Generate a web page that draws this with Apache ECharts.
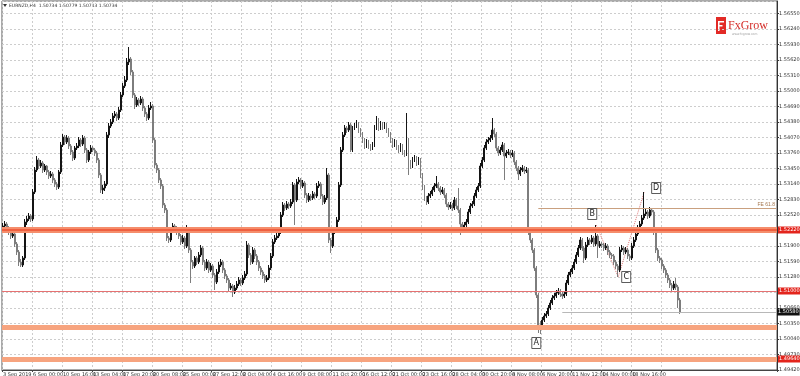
<!DOCTYPE html>
<html><head><meta charset="utf-8">
<script src="https://cdn.jsdelivr.net/npm/echarts@6/dist/echarts.min.js"></script>
<style>html,body{margin:0;padding:0;background:#fff}#c{width:800px;height:376px}</style>
</head><body><div id="c"></div>
<script>
const opens=[
1.5226,1.5230,1.5234,1.5226,1.5218,1.5210,1.5214,1.5194,1.5178,1.5158,
1.5152,1.5166,1.5238,1.5244,1.5250,1.5244,1.5298,1.5342,1.5362,1.5350,
1.5356,1.5342,1.5350,1.5338,1.5330,1.5334,1.5322,1.5314,1.5308,1.5338,
1.5392,1.5408,1.5398,1.5406,1.5390,1.5378,1.5366,1.5386,1.5390,1.5402,
1.5394,1.5406,1.5382,1.5362,1.5378,1.5386,1.5382,1.5376,1.5362,1.5332,
1.5302,1.5306,1.5314,1.5412,1.5430,1.5438,1.5450,1.5454,1.5446,1.5462,
1.5492,1.5510,1.5522,1.5558,1.5564,1.5538,1.5492,1.5472,1.5482,1.5476,
1.5484,1.5466,1.5454,1.5446,1.5466,1.5470,1.5402,1.5352,1.5342,1.5322,
1.5310,1.5272,1.5262,1.5206,1.5202,1.5222,1.5230,1.5226,1.5218,1.5210,
1.5198,1.5206,1.5190,1.5222,1.5182,1.5158,1.5150,1.5166,1.5158,1.5172,
1.5186,1.5158,1.5146,1.5158,1.5142,1.5150,1.5132,1.5118,1.5138,1.5152,
1.5158,1.5142,1.5130,1.5122,1.5106,1.5110,1.5098,1.5106,1.5114,1.5122,
1.5116,1.5126,1.5134,1.5192,1.5172,1.5158,1.5182,1.5170,1.5158,1.5146,
1.5138,1.5130,1.5122,1.5126,1.5146,1.5170,1.5198,1.5206,1.5210,1.5218,
1.5252,1.5272,1.5266,1.5274,1.5270,1.5278,1.5312,1.5282,1.5318,1.5322,
1.5310,1.5316,1.5292,1.5282,1.5290,1.5286,1.5294,1.5290,1.5310,1.5314,
1.5290,1.5278,1.5286,1.5332,1.5202,1.5190,1.5218,1.5222,1.5242,1.5312,
1.5382,1.5412,1.5426,1.5422,1.5432,1.5382,1.5426,1.5430,1.5434,1.5422,
1.5414,1.5402,1.5390,1.5398,1.5390,1.5386,1.5392,1.5426,1.5442,1.5426,
1.5434,1.5428,1.5432,1.5422,1.5414,1.5402,1.5392,1.5398,1.5388,1.5382,
1.5390,1.5378,1.5374,1.5402,1.5358,1.5350,1.5362,1.5366,1.5356,1.5362,
1.5332,1.5308,1.5286,1.5278,1.5290,1.5294,1.5302,1.5310,1.5314,1.5306,
1.5298,1.5302,1.5292,1.5274,1.5268,1.5272,1.5266,1.5282,1.5270,1.5262,
1.5234,1.5226,1.5232,1.5238,1.5258,1.5270,1.5274,1.5290,1.5302,1.5310,
1.5350,1.5362,1.5386,1.5398,1.5402,1.5406,1.5422,1.5414,1.5386,1.5376,
1.5382,1.5392,1.5370,1.5376,1.5378,1.5372,1.5376,1.5358,1.5346,1.5334,
1.5342,1.5346,1.5340,1.5342,1.5218,1.5202,1.5182,1.5146,1.5092,1.5032,
1.5026,1.5042,1.5050,1.5054,1.5066,1.5076,1.5086,1.5090,1.5096,1.5100,
1.5094,1.5090,1.5094,1.5116,1.5132,1.5138,1.5146,1.5158,1.5172,1.5186,
1.5202,1.5186,1.5166,1.5192,1.5202,1.5198,1.5206,1.5194,1.5210,1.5190,
1.5194,1.5192,1.5186,1.5190,1.5178,1.5172,1.5170,1.5158,1.5150,1.5142,
1.5182,1.5186,1.5178,1.5182,1.5170,1.5166,1.5190,1.5202,1.5214,1.5226,
1.5234,1.5246,1.5254,1.5258,1.5250,1.5262,1.5258,1.5218,1.5182,1.5166,
1.5162,1.5150,1.5142,1.5132,1.5122,1.5112,1.5106,1.5114,1.5108,1.5082];
const closes=[
1.5230,1.5234,1.5226,1.5218,1.5210,1.5214,1.5194,1.5178,1.5158,1.5152,
1.5166,1.5238,1.5244,1.5250,1.5244,1.5298,1.5342,1.5362,1.5350,1.5356,
1.5342,1.5350,1.5338,1.5330,1.5334,1.5322,1.5314,1.5308,1.5338,1.5392,
1.5408,1.5398,1.5406,1.5390,1.5378,1.5366,1.5386,1.5390,1.5402,1.5394,
1.5406,1.5382,1.5362,1.5378,1.5386,1.5382,1.5376,1.5362,1.5332,1.5302,
1.5306,1.5314,1.5412,1.5430,1.5438,1.5450,1.5454,1.5446,1.5462,1.5492,
1.5510,1.5522,1.5558,1.5564,1.5538,1.5492,1.5472,1.5482,1.5476,1.5484,
1.5466,1.5454,1.5446,1.5466,1.5470,1.5402,1.5352,1.5342,1.5322,1.5310,
1.5272,1.5262,1.5206,1.5202,1.5222,1.5230,1.5226,1.5218,1.5210,1.5198,
1.5206,1.5190,1.5222,1.5182,1.5158,1.5150,1.5166,1.5158,1.5172,1.5186,
1.5158,1.5146,1.5158,1.5142,1.5150,1.5132,1.5118,1.5138,1.5152,1.5158,
1.5142,1.5130,1.5122,1.5106,1.5110,1.5098,1.5106,1.5114,1.5122,1.5116,
1.5126,1.5134,1.5192,1.5172,1.5158,1.5182,1.5170,1.5158,1.5146,1.5138,
1.5130,1.5122,1.5126,1.5146,1.5170,1.5198,1.5206,1.5210,1.5218,1.5252,
1.5272,1.5266,1.5274,1.5270,1.5278,1.5312,1.5282,1.5318,1.5322,1.5310,
1.5316,1.5292,1.5282,1.5290,1.5286,1.5294,1.5290,1.5310,1.5314,1.5290,
1.5278,1.5286,1.5332,1.5202,1.5190,1.5218,1.5222,1.5242,1.5312,1.5382,
1.5412,1.5426,1.5422,1.5432,1.5382,1.5426,1.5430,1.5434,1.5422,1.5414,
1.5402,1.5390,1.5398,1.5390,1.5386,1.5392,1.5426,1.5442,1.5426,1.5434,
1.5428,1.5432,1.5422,1.5414,1.5402,1.5392,1.5398,1.5388,1.5382,1.5390,
1.5378,1.5374,1.5402,1.5358,1.5350,1.5362,1.5366,1.5356,1.5362,1.5332,
1.5308,1.5286,1.5278,1.5290,1.5294,1.5302,1.5310,1.5314,1.5306,1.5298,
1.5302,1.5292,1.5274,1.5268,1.5272,1.5266,1.5282,1.5270,1.5262,1.5234,
1.5226,1.5232,1.5238,1.5258,1.5270,1.5274,1.5290,1.5302,1.5310,1.5350,
1.5362,1.5386,1.5398,1.5402,1.5406,1.5422,1.5414,1.5386,1.5376,1.5382,
1.5392,1.5370,1.5376,1.5378,1.5372,1.5376,1.5358,1.5346,1.5334,1.5342,
1.5346,1.5340,1.5342,1.5218,1.5202,1.5182,1.5146,1.5092,1.5032,1.5026,
1.5042,1.5050,1.5054,1.5066,1.5076,1.5086,1.5090,1.5096,1.5100,1.5094,
1.5090,1.5094,1.5116,1.5132,1.5138,1.5146,1.5158,1.5172,1.5186,1.5202,
1.5186,1.5166,1.5192,1.5202,1.5198,1.5206,1.5194,1.5210,1.5190,1.5194,
1.5192,1.5186,1.5190,1.5178,1.5172,1.5170,1.5158,1.5150,1.5142,1.5182,
1.5186,1.5178,1.5182,1.5170,1.5166,1.5190,1.5202,1.5214,1.5226,1.5234,
1.5246,1.5254,1.5258,1.5250,1.5262,1.5258,1.5218,1.5182,1.5166,1.5162,
1.5150,1.5142,1.5132,1.5122,1.5112,1.5106,1.5114,1.5108,1.5082,1.5058];
const highs=[
1.5236,1.5240,1.5238,1.5230,1.5222,1.5220,1.5218,1.5198,1.5182,1.5164,
1.5170,1.5244,1.5250,1.5256,1.5254,1.5304,1.5348,1.5370,1.5366,1.5362,
1.5360,1.5354,1.5352,1.5342,1.5340,1.5338,1.5326,1.5318,1.5342,1.5398,
1.5414,1.5412,1.5412,1.5410,1.5394,1.5382,1.5390,1.5396,1.5408,1.5406,
1.5412,1.5410,1.5386,1.5382,1.5392,1.5390,1.5386,1.5380,1.5366,1.5336,
1.5312,1.5320,1.5418,1.5436,1.5444,1.5456,1.5460,1.5458,1.5468,1.5498,
1.5516,1.5530,1.5566,1.5588,1.5568,1.5542,1.5496,1.5488,1.5486,1.5490,
1.5488,1.5470,1.5458,1.5472,1.5478,1.5474,1.5406,1.5356,1.5346,1.5326,
1.5314,1.5276,1.5266,1.5210,1.5228,1.5236,1.5234,1.5230,1.5222,1.5214,
1.5212,1.5210,1.5232,1.5226,1.5186,1.5162,1.5170,1.5170,1.5178,1.5192,
1.5190,1.5162,1.5164,1.5162,1.5156,1.5154,1.5136,1.5144,1.5158,1.5164,
1.5162,1.5146,1.5134,1.5126,1.5116,1.5114,1.5112,1.5120,1.5128,1.5126,
1.5132,1.5140,1.5200,1.5196,1.5176,1.5188,1.5186,1.5174,1.5162,1.5150,
1.5142,1.5134,1.5132,1.5152,1.5176,1.5204,1.5212,1.5216,1.5224,1.5258,
1.5278,1.5276,1.5280,1.5278,1.5284,1.5318,1.5316,1.5324,1.5328,1.5326,
1.5322,1.5320,1.5296,1.5296,1.5294,1.5300,1.5298,1.5316,1.5320,1.5318,
1.5294,1.5292,1.5346,1.5336,1.5206,1.5224,1.5228,1.5248,1.5318,1.5388,
1.5418,1.5432,1.5430,1.5438,1.5436,1.5430,1.5436,1.5442,1.5438,1.5426,
1.5418,1.5406,1.5404,1.5402,1.5394,1.5398,1.5432,1.5450,1.5446,1.5440,
1.5438,1.5438,1.5436,1.5426,1.5418,1.5406,1.5404,1.5402,1.5392,1.5396,
1.5394,1.5382,1.5456,1.5406,1.5362,1.5368,1.5372,1.5370,1.5368,1.5366,
1.5336,1.5312,1.5290,1.5296,1.5300,1.5308,1.5316,1.5330,1.5318,1.5310,
1.5308,1.5306,1.5296,1.5278,1.5278,1.5276,1.5288,1.5286,1.5306,1.5266,
1.5238,1.5238,1.5244,1.5264,1.5276,1.5280,1.5296,1.5308,1.5316,1.5356,
1.5368,1.5392,1.5404,1.5408,1.5412,1.5446,1.5426,1.5418,1.5390,1.5388,
1.5398,1.5396,1.5382,1.5384,1.5382,1.5382,1.5380,1.5362,1.5350,1.5348,
1.5352,1.5350,1.5348,1.5346,1.5222,1.5206,1.5186,1.5150,1.5096,1.5040,
1.5048,1.5056,1.5060,1.5072,1.5082,1.5092,1.5096,1.5102,1.5106,1.5104,
1.5098,1.5100,1.5122,1.5138,1.5144,1.5152,1.5164,1.5178,1.5192,1.5208,
1.5206,1.5190,1.5198,1.5208,1.5206,1.5212,1.5210,1.5232,1.5214,1.5200,
1.5198,1.5196,1.5196,1.5194,1.5182,1.5176,1.5174,1.5162,1.5154,1.5188,
1.5192,1.5190,1.5188,1.5186,1.5174,1.5196,1.5208,1.5220,1.5232,1.5240,
1.5252,1.5298,1.5266,1.5262,1.5268,1.5266,1.5262,1.5222,1.5186,1.5170,
1.5166,1.5154,1.5146,1.5136,1.5126,1.5116,1.5120,1.5126,1.5112,1.5086];
const lows=[
1.5220,1.5226,1.5220,1.5212,1.5204,1.5206,1.5188,1.5172,1.5150,1.5148,
1.5148,1.5162,1.5232,1.5240,1.5238,1.5240,1.5294,1.5338,1.5344,1.5346,
1.5336,1.5338,1.5332,1.5324,1.5326,1.5316,1.5308,1.5302,1.5304,1.5334,
1.5388,1.5392,1.5394,1.5384,1.5372,1.5360,1.5362,1.5382,1.5386,1.5388,
1.5390,1.5376,1.5356,1.5358,1.5374,1.5378,1.5370,1.5356,1.5326,1.5296,
1.5294,1.5300,1.5310,1.5406,1.5426,1.5434,1.5446,1.5440,1.5442,1.5458,
1.5488,1.5506,1.5518,1.5552,1.5532,1.5486,1.5464,1.5468,1.5470,1.5472,
1.5460,1.5448,1.5440,1.5442,1.5462,1.5396,1.5346,1.5336,1.5316,1.5304,
1.5266,1.5256,1.5200,1.5196,1.5198,1.5218,1.5220,1.5212,1.5204,1.5192,
1.5194,1.5184,1.5186,1.5176,1.5116,1.5144,1.5146,1.5152,1.5154,1.5168,
1.5152,1.5140,1.5142,1.5136,1.5138,1.5126,1.5102,1.5114,1.5134,1.5148,
1.5136,1.5124,1.5116,1.5100,1.5102,1.5088,1.5094,1.5102,1.5110,1.5110,
1.5112,1.5122,1.5130,1.5166,1.5152,1.5154,1.5164,1.5152,1.5140,1.5132,
1.5124,1.5116,1.5118,1.5122,1.5142,1.5166,1.5194,1.5202,1.5206,1.5214,
1.5248,1.5260,1.5262,1.5264,1.5266,1.5274,1.5232,1.5278,1.5314,1.5304,
1.5306,1.5286,1.5276,1.5278,1.5280,1.5282,1.5284,1.5286,1.5306,1.5284,
1.5272,1.5274,1.5282,1.5196,1.5176,1.5186,1.5214,1.5218,1.5238,1.5308,
1.5378,1.5408,1.5416,1.5418,1.5378,1.5378,1.5422,1.5426,1.5416,1.5408,
1.5396,1.5384,1.5386,1.5384,1.5380,1.5382,1.5388,1.5422,1.5420,1.5422,
1.5422,1.5424,1.5416,1.5408,1.5396,1.5386,1.5388,1.5382,1.5376,1.5378,
1.5372,1.5368,1.5370,1.5332,1.5344,1.5346,1.5358,1.5350,1.5352,1.5326,
1.5302,1.5280,1.5272,1.5274,1.5286,1.5290,1.5298,1.5306,1.5300,1.5292,
1.5294,1.5286,1.5268,1.5262,1.5264,1.5260,1.5262,1.5264,1.5256,1.5212,
1.5218,1.5222,1.5228,1.5234,1.5254,1.5266,1.5270,1.5286,1.5298,1.5306,
1.5346,1.5358,1.5382,1.5394,1.5398,1.5402,1.5408,1.5380,1.5370,1.5372,
1.5378,1.5322,1.5366,1.5372,1.5366,1.5368,1.5352,1.5340,1.5322,1.5330,
1.5338,1.5334,1.5336,1.5212,1.5196,1.5176,1.5140,1.5086,1.5016,1.5014,
1.5022,1.5038,1.5046,1.5050,1.5062,1.5072,1.5082,1.5086,1.5092,1.5088,
1.5084,1.5086,1.5090,1.5112,1.5128,1.5134,1.5142,1.5154,1.5168,1.5182,
1.5180,1.5156,1.5162,1.5188,1.5192,1.5194,1.5188,1.5190,1.5166,1.5186,
1.5186,1.5180,1.5182,1.5172,1.5166,1.5164,1.5152,1.5144,1.5128,1.5138,
1.5178,1.5172,1.5174,1.5164,1.5160,1.5162,1.5186,1.5198,1.5210,1.5222,
1.5230,1.5242,1.5250,1.5244,1.5246,1.5252,1.5212,1.5176,1.5160,1.5156,
1.5144,1.5136,1.5126,1.5116,1.5106,1.5100,1.5102,1.5102,1.5066,1.5054];

const xTickLabels=['3 Sep 2019','6 Sep 00:00','10 Sep 16:00','13 Sep 04:00','17 Sep 20:00','20 Sep 08:00',
'25 Sep 00:00','27 Sep 12:00','2 Oct 04:00','4 Oct 16:00','9 Oct 08:00','11 Oct 20:00','16 Oct 12:00',
'21 Oct 00:00','23 Oct 16:00','28 Oct 04:00','30 Oct 20:00','4 Nov 08:00','6 Nov 20:00','11 Nov 12:00',
'14 Nov 00:00','18 Nov 16:00','21 Nov 04:00'];
const barsPerTick=15;
const emptyBarsRight=48;

const levelZone1=1.5222, levelRedLine=1.5100, levelZone2=1.5028, levelZone3=1.4964, levelFE=1.5266;
const feStartBar=268, bidStartBar=280;
const annotLabels=['A','B','C','D'];
const annotBars=[267,295,312,327];
const annotPrices=[1.4996,1.5254,1.5128,1.5306];
const waveBars=[297,308,321];
const wavePrices=[1.5232,1.5128,1.5298];

const header='EURNZD,H4  1.50734 1.50779 1.50713 1.50734';

const N=opens.length+emptyBarsRight;
const cats=[];for(let i=0;i<N;i++)cats.push(String(i));
const candles=opens.map((o,i)=>[o,closes[i],lows[i],highs[i]]);
const lastClose=closes[closes.length-1];
const waveData=cats.map(()=>'-');waveBars.forEach((b,k)=>{waveData[b]=wavePrices[k];});
const showTick=(i)=> i%barsPerTick===0 && (i/barsPerTick)<xTickLabels.length;

const boxLabel=(bg,v)=>({show:true,position:'end',distance:1,formatter:v.toFixed(5),
  color:'#fff',backgroundColor:bg,fontSize:5,padding:[1,1],fontFamily:'DejaVu Sans'});

const chart=echarts.init(document.getElementById('c'),null,{renderer:'canvas'});
chart.setOption({
  animation:false,
  backgroundColor:'#fff',
  grid:{left:2,right:23,top:1,bottom:6,show:true,borderColor:'#555',borderWidth:1,
    containLabel:false,outerBoundsMode:'none'},
  xAxis:{type:'category',data:cats,boundaryGap:true,
    axisLine:{show:true,lineStyle:{color:'#444'}},
    axisTick:{show:true,interval:(i)=>showTick(i),length:2,lineStyle:{color:'#444'}},
    axisLabel:{interval:(i)=>showTick(i),formatter:(v,i)=>xTickLabels[i/barsPerTick],hideOverlap:false,
      showMinLabel:true,fontSize:5,color:'#333',align:'left',margin:2,fontFamily:'DejaVu Sans'},
    splitLine:{show:true,interval:(i)=>showTick(i),lineStyle:{color:'#cdcdcd',type:[2,2],width:1}}},
  yAxis:{type:'value',position:'right',min:1.4942,max:1.5680,interval:0.0031,scale:true,
    axisLine:{show:true,lineStyle:{color:'#333'}},
    axisTick:{show:true,length:2,lineStyle:{color:'#333'}},
    axisLabel:{fontSize:5,color:'#333',margin:2,formatter:(v)=>v.toFixed(5),showMaxLabel:false,fontFamily:'DejaVu Sans'},
    splitLine:{show:true,lineStyle:{color:'#cdcdcd',type:[2,2],width:1}}},
  series:[
    {type:'candlestick',data:candles,barWidth:1.4,
      itemStyle:{color:'#141414',color0:'#7d7d7d',borderColor:'#141414',borderColor0:'#7d7d7d',borderWidth:1},
      markLine:{silent:true,symbol:['none','none'],animation:false,precision:6,
        data:[
          {yAxis:levelZone1,lineStyle:{color:'#f58e6c',width:6,type:'solid'},label:{show:false}},
          {yAxis:levelZone1,lineStyle:{color:'#ec4f30',width:1.5,type:'solid'},label:boxLabel('#e3241c',levelZone1)},
          {yAxis:levelZone2,lineStyle:{color:'#f7a47f',width:5,type:'solid'},label:{show:false}},
          {yAxis:levelZone3,lineStyle:{color:'#f7a47f',width:5,type:'solid'},label:boxLabel('#e3241c',levelZone3)},
          {yAxis:levelRedLine,lineStyle:{color:'#e57272',width:1,type:'solid'},label:boxLabel('#e3241c',levelRedLine)},
          [{coord:[String(feStartBar),levelFE],lineStyle:{color:'#c9a07f',width:1,type:'solid'},
            label:{show:true,position:'insideEndTop',formatter:'FE 61.8',fontSize:5,color:'#a5774f',distance:1}},
           {coord:[String(N-1),levelFE]}],
          [{coord:[String(bidStartBar),lastClose],lineStyle:{color:'#b8b8b8',width:1,type:'solid'},
            label:boxLabel('#111',lastClose)},
           {coord:[String(N-1),lastClose]}]
        ]},
      markPoint:{silent:true,animation:false,precision:6,
        data:annotLabels.map((t,k)=>({coord:[String(annotBars[k]),annotPrices[k]],value:t,
          symbol:'rect',symbolSize:[9,11],itemStyle:{color:'#fff',borderColor:'#333',borderWidth:0.8},
          label:{show:true,formatter:t,color:'#222',fontSize:8,fontFamily:'DejaVu Sans'}}))}
    },
    {type:'line',data:waveData,connectNulls:true,symbol:'none',silent:true,
      lineStyle:{color:'#e07a7a',width:1,type:'dotted'},z:1}
  ],
  graphic:[
    {type:'polygon',shape:{points:[[3,4],[7,4],[5,7]]},style:{fill:'#333'}},
    {type:'text',left:9,top:3,style:{text:header,fontSize:4.5,fill:'#333',fontFamily:'DejaVu Sans'}},
    {type:'rect',shape:{x:716,y:17,width:10,height:17},style:{fill:'#e22a26'}},
    {type:'rect',shape:{x:718,y:21,width:6,height:1.5},style:{fill:'#fff'}},
    {type:'rect',shape:{x:718,y:25,width:4.5,height:1.5},style:{fill:'#fff'}},
    {type:'rect',shape:{x:718,y:21,width:1.5,height:10},style:{fill:'#fff'}},
    {type:'text',left:728,top:20,style:{text:'FxGrow',fontSize:12,fill:'#d42d29',fontFamily:'Liberation Serif'}},
    {type:'text',left:732,top:33,style:{text:'www.fxgrow.com',fontSize:3,fill:'#999',fontFamily:'DejaVu Sans'}}
  ]
});
</script></body></html>
